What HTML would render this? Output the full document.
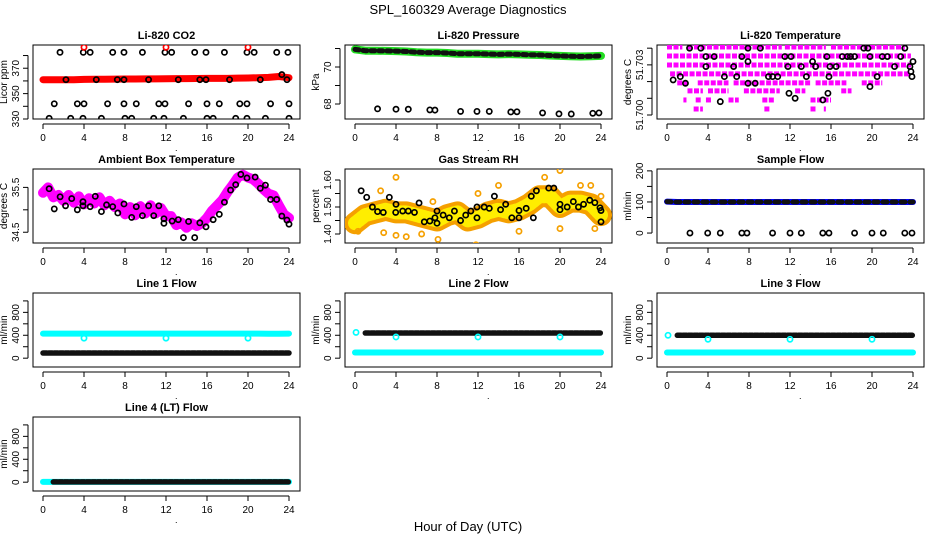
<!DOCTYPE html>
<html><head><meta charset="utf-8"><style>
html,body{margin:0;padding:0;background:#fff}
svg{display:block;font-family:"Liberation Sans",Arial,sans-serif}
</style></head><body>
<svg id="chart" width="936" height="540" viewBox="0 0 936 540">
<rect x="0" y="0" width="936" height="540" fill="#fff"/>
<text x="468" y="14" text-anchor="middle" font-size="13">SPL_160329  Average Diagnostics</text>
<text x="468" y="531" text-anchor="middle" font-size="13">Hour of Day (UTC)</text>
</svg>
<script>
// ---------- data ----------
const hourCats = [0,1,2,3,4,5,6,7,8,9,10,11,12,13,14,15,16,17,18,19,20,21,22,23,24];
const xTicks = [0,4,8,12,16,20,24];

const co2Band = [361,361,361,361,361.2,361.3,361.3,361.4,361.5,361.5,361.6,361.6,361.7,361.8,361.8,361.9,362,362,362,362.2,362.3,362.5,362.8,363.5,362.5];
const co2PtHours = [1.66,3.93,4.6,6.8,7.9,9.7,11.9,12.55,14.8,15.9,17.7,19.9,20.6,22.8,23.9, 2.24,5.2,7.25,7.9,10.3,13.2,15.3,15.9,18.2,21.2,23.3,23.8, 1.1,3.35,4.0,6.3,7.9,9.1,11.3,11.9,14.2,16.0,17.2,19.2,19.9,22.2,24, 0.6,2.7,3.9,5.7,8.0,8.65,10.8,11.8,13.7,16.0,16.6,18.8,19.9,21.7,24];
const co2PtVals = [382.5,382.5,382.5,382.5,382.5,382.5,382.5,382.5,382.5,382.5,382.5,382.5,382.5,382.5,382.5, 361,361,361,361,361,361,361,361,361,361,365,361, 342,342,342,342,342,342,342,342,342,342,342,342,342,342,342, 330.5,330.5,330.5,330.5,330.5,330.5,330.5,330.5,330.5,330.5,330.5,330.5,330.5,330.5,330.5];
const co2RedHours = [4,12,20];
const co2RedVals = [386.5,386.5,386.5];

const presBand = [70.95,70.88,70.88,70.87,70.86,70.84,70.8,70.78,70.78,70.76,70.72,70.72,70.72,70.7,70.68,70.7,70.68,70.66,70.65,70.62,70.6,70.58,70.57,70.58,70.6];
const presLowHours = [2.2,4,5.2,7.3,7.8,10.3,11.9,13.1,15.2,15.8,18.3,19.9,21.1,23.2,23.8];
const presLowVals = [67.74,67.72,67.72,67.68,67.67,67.6,67.6,67.6,67.57,67.58,67.52,67.47,67.46,67.5,67.52];

const tempLevels = [51.70407,51.70353,51.70299,51.70246,51.70192,51.70144,51.7009,51.70036];
const tempRanges = [
 [[0,1.5],[2,11.2],[11.5,15.5],[16,23.2]],
 [[0,23.8]],
 [[0,23.8]],
 [[0.3,23.6]],
 [[1,2],[3,6],[6.5,14],[14.5,17.5],[19,21]],
 [[2,3.5],[4,6],[7.5,11],[12.5,13.5],[17,18]],
 [[1.6,1.9],[2.8,3.3],[3.8,4.3],[6,7],[9.3,10.5],[14,16]],
 [[2.6,3.5],[9.5,10],[14,14.5],[15.3,15.5]]];
const tempPtHours = [0.6,1.3,1.8,2.2,3.3,3.8,3.8,4.6,5.2,5.6,6.5,6.8,7.3,7.9,7.9,7.9,8.6,9.1,9.9,10.3,10.8,11.5,11.8,11.9,12.1,12.5,13.1,13.6,14.2,14.5,15.2,15.6,15.7,15.8,15.9,16.5,17.1,17.6,17.9,18.3,19.2,19.6,19.8,19.8,20.5,21,21.5,22.2,22.8,23.2,23.7,23.8,23.9,24];
const tempPtVals = [51.7021,51.7023,51.7019,51.7040,51.7040,51.7035,51.7029,51.7035,51.7008,51.7023,51.7029,51.7023,51.7035,51.7040,51.7032,51.7019,51.7019,51.7040,51.7023,51.7023,51.7023,51.7035,51.7029,51.7013,51.7035,51.7010,51.7029,51.7023,51.7032,51.7029,51.7009,51.7035,51.7013,51.7023,51.7029,51.7029,51.7035,51.7035,51.7035,51.7035,51.7040,51.7040,51.7035,51.7017,51.7023,51.7035,51.7035,51.7029,51.7035,51.7040,51.7029,51.7026,51.7023,51.7032];

const ambHalfHours = [0,0.5,1,1.5,2,2.5,3,3.5,4,4.5,5,5.5,6,6.5,7,7.5,8,8.5,9,9.5,10,10.5,11,11.5,12,12.5,13,13.5,14,14.5,15,15.5,16,16.5,17,17.5,18,18.5,19,19.5,20,20.5,21,21.5,22,22.5,23,23.5,24];
const ambBand = [35.38,35.5,35.28,35.33,35.2,35.33,35.16,35.3,35.12,35.26,35.14,35.28,35.1,35.2,35.06,35.14,34.9,35.06,34.88,35.08,34.92,35.1,34.92,35.04,34.86,34.86,34.66,34.72,34.6,34.7,34.64,34.7,34.82,34.98,35.1,35.22,35.4,35.55,35.72,35.78,35.72,35.68,35.58,35.46,35.36,35.32,35.1,34.9,34.82];
const ambPtHours = [0.6,1.1,1.67,2.2,2.8,3.35,3.9,3.9,4.6,5.1,5.7,6.2,6.8,7.3,7.9,8.65,9.1,9.7,10.3,10.8,11.3,11.8,11.8,12.6,13.2,13.7,14.2,14.8,15.3,15.9,16.6,17.2,17.7,18.3,18.8,19.3,19.9,20.7,21.2,21.7,22.2,22.8,23.3,23.8,24];
const ambPtVals = [35.47,35.02,35.29,35.09,35.25,35.0,35.18,35.09,35.07,35.3,34.96,35.11,35.07,34.93,35.13,34.83,35.07,34.87,35.09,34.87,35.09,34.8,34.7,34.75,34.78,34.38,34.74,34.38,34.71,34.62,34.78,34.9,35.17,35.44,35.56,35.79,35.71,35.73,35.48,35.55,35.23,35.23,34.86,34.77,34.68];

const rhBand = [1.44,1.47,1.48,1.49,1.48,1.48,1.47,1.46,1.45,1.47,1.48,1.45,1.46,1.48,1.49,1.48,1.49,1.51,1.54,1.54,1.50,1.52,1.52,1.51,1.47];
const rhPtHours = [0.6,1.14,1.7,2.2,2.76,3.35,3.97,4.0,4.65,5.2,5.8,6.25,6.76,7.3,7.8,8.0,8.0,8.6,9.2,9.7,10.3,10.8,11.3,11.9,11.9,12.6,13.1,13.6,14.2,14.7,15.3,16.0,16.0,16.7,17.2,17.7,17.4,18.9,19.4,20,20,20.7,21.3,21.8,22.3,22.9,23.4,23.9,24,24];
const rhPtVals = [1.56,1.536,1.50,1.483,1.48,1.536,1.48,1.51,1.485,1.485,1.48,1.515,1.445,1.448,1.46,1.485,1.44,1.47,1.46,1.485,1.45,1.47,1.485,1.50,1.46,1.50,1.495,1.54,1.49,1.51,1.46,1.487,1.46,1.495,1.54,1.56,1.46,1.57,1.57,1.51,1.49,1.50,1.52,1.50,1.51,1.525,1.516,1.497,1.487,1.445];
const rhOutHours = [0.3,2.5,2.8,4,4,5,6.5,7.6,8.1,11.8,12,14,16,18.5,20,20,22,23,23.4,24];
const rhOutVals = [1.41,1.56,1.405,1.61,1.395,1.39,1.40,1.52,1.38,1.36,1.55,1.58,1.41,1.61,1.635,1.42,1.58,1.58,1.42,1.54];

const sfBand = [101,100,100,100,100,100,100,100,100,100,100,100,100,100,100,100,100,100,100,100,100,100,100,100,100];
const sfZeroHours = [2.24,3.97,5.2,7.3,7.8,10.3,12.0,13.1,15.2,15.8,18.3,20,21.1,23.2,23.9];
const sfZeroVals = [0,0,0,0,0,0,0,0,0,0,0,0,0,0,0];

const l1Cyan = [430,430,430,430,430,430,430,430,430,430,430,430,430,430,430,430,430,430,430,430,430,430,425,425,430];
const l1Black = [90,90,90,90,90,90,90,90,90,90,90,90,90,90,90,90,90,90,90,90,90,90,90,90,90];
const l2Cyan = [100,100,100,100,100,100,100,100,100,100,100,100,100,100,100,100,100,100,100,100,100,100,100,100,100];
const l2Black = [440,440,440,440,440,440,440,440,440,440,440,440,440,440,440,440,440,440,440,440,440,440,440,440,440];
const l3Cyan = [100,100,100,100,100,100,100,100,100,100,100,100,100,100,100,100,100,100,100,100,100,100,100,100,100];
const l3Black = [400,400,400,400,400,400,400,400,400,400,400,400,400,400,400,400,400,400,400,400,400,400,400,400,400];
const l4Cyan = [5,5,5,5,5,5,5,5,5,5,5,5,5,5,5,5,5,5,5,5,5,5,5,5,5];
const l4Black = [5,5,5,5,5,5,5,5,5,5,5,5,5,5,5,5,5,5,5,5,5,5,5,5,5];
const dipHours = [4,12,20];
const l1DipVals = [350,350,350];
const l2DipVals = [370,370,370];
const l3DipVals = [330,330,330];

// ---------- drawing ----------
const NS = "http://www.w3.org/2000/svg";
const svg = document.getElementById("chart");
function mk(tag, parent, attrs){ const e=document.createElementNS(NS,tag); for(const k in attrs) e.setAttribute(k,attrs[k]); parent.appendChild(e); return e; }

function makePanel(r, c, ymin, ymax, yTicks, yLabels, title, ylab, key){
  const L = 33 + 312*c, R = L + 267, T = 45 + 124*r, B = T + 74;
  const g = mk("g", svg, {});
  
  
  const x = h => L + 10 + h*10.25;
  const y = v => B - (v - ymin)/(ymax - ymin)*(B - T);
  const t = mk("text", g, {x:(L+R)/2, y:T-6, "text-anchor":"middle", "font-size":"11", "font-weight":"bold"});
  t.textContent = title;
  
  
  const box = mk("rect", g, {x:L, y:T, width:R-L, height:B-T, fill:"none", stroke:"#000", "stroke-width":"1"});
  
  
  const xa = mk("g", g, {});
  
  
  mk("line", xa, {x1:x(0), x2:x(24), y1:B+5, y2:B+5, stroke:"#000"});
  xTicks.forEach(h=>{
    mk("line", xa, {x1:x(h), x2:x(h), y1:B+5, y2:B+10, stroke:"#000"});
    const lt = mk("text", xa, {x:x(h), y:B+22, "text-anchor":"middle", "font-size":"10"});
    lt.textContent = h;
    
    
  });
  const dot = mk("text", xa, {x:x(13), y:B+32, "text-anchor":"middle", "font-size":"9"}); dot.textContent=".";
  const ya = mk("g", g, {});
  
  
  mk("line", ya, {x1:L-5, x2:L-5, y1:y(yTicks[0]), y2:y(yTicks[yTicks.length-1]), stroke:"#000"});
  yTicks.forEach(v=>{ mk("line", ya, {x1:L-10, x2:L-5, y1:y(v), y2:y(v), stroke:"#000"}); });
  yLabels.forEach(v=>{
    const yy = y(v);
    const lt = mk("text", ya, {x:L-14, y:yy, "text-anchor":"middle", "font-size":"10", transform:`rotate(-90 ${L-14} ${yy})`});
    lt.textContent = (key==='temp') ? v.toFixed(3) : (key==='rh' ? v.toFixed(2) : v);
    
    
  });
  const yl = mk("text", g, {x:L-26, y:(T+B)/2, "text-anchor":"middle", "font-size":"10", transform:`rotate(-90 ${L-26} ${(T+B)/2})`});
  yl.textContent = ylab;
  
  
  const clipId = "clip-" + key;
  const cp = mk("clipPath", g, {id:clipId}); mk("rect", cp, {x:L, y:T, width:R-L, height:B-T});
  const data = mk("g", g, {"clip-path":`url(#${clipId})`});
  
  
  return {g:data, x, y};
}
function band(p, hours, vals, color, w, name, dash){
  const pts = hours.map((h,i)=>p.x(h).toFixed(1)+","+p.y(vals[i]).toFixed(1)).join(" ");
  const e = mk("polyline", p.g, {points:pts, fill:"none", stroke:color, "stroke-width":w, "stroke-linejoin":"round", "stroke-linecap":"round"});
  if(dash) e.setAttribute("stroke-dasharray", dash);
  
  
  return e;
}
function pts(p, hours, vals, color, name, r){
  hours.forEach((h,i)=>{
    const e = mk("circle", p.g, {cx:p.x(h), cy:p.y(vals[i]), r:r||2.6, fill:"none", stroke:color, "stroke-width":"1.7"});
    
    
  });
}

// CO2
let p = makePanel(0,0,330,388.3,[330,340,350,360,370,380],[330,350,370],"Li-820 CO2","Licor ppm","co2");
band(p, hourCats, co2Band, "#ff0000", 7, "co2-band");
pts(p, co2PtHours, co2PtVals, "#000", "co2-point");
pts(p, co2RedHours, co2RedVals, "#ff0000", "co2-red-point");

// Pressure
p = makePanel(0,1,67.19,71.19,[68,69,70,71],[68,70],"Li-820 Pressure","kPa","pressure");
band(p, hourCats, presBand, "#22dd22", 8, "pressure-band");
band(p, hourCats, presBand, "#111", 5, "pressure-black-points", "4 4");
pts(p, presLowHours, presLowVals, "#000", "pressure-low-point");

// Temperature
p = makePanel(0,2,51.69976,51.70419,[51.700,51.701,51.702,51.703,51.704],[51.700,51.703],"Li-820 Temperature","degrees C","temp");
tempLevels.forEach((lv,i)=>{
  tempRanges[i].forEach(rg=>{
    const e = mk("line", p.g, {x1:p.x(rg[0]), x2:p.x(rg[1]), y1:p.y(lv), y2:p.y(lv), stroke:"#ff00ff", "stroke-width":"5", "stroke-dasharray":"5 1.5"});
    
    
  });
});
pts(p, tempPtHours, tempPtVals, "#000", "temp-point");

// Ambient
p = makePanel(1,0,34.26,35.91,[34.5,35.0,35.5],[34.5,35.5],"Ambient Box Temperature","degrees C","ambient");
band(p, ambHalfHours, ambBand, "#ff00ff", 10, "ambient-band");
pts(p, ambPtHours, ambPtVals, "#000", "ambient-point");

// RH
p = makePanel(1,1,1.3667,1.6407,[1.40,1.45,1.50,1.55,1.60],[1.40,1.50,1.60],"Gas Stream RH","percent","rh");
band(p, hourCats, rhBand, "#f5a000", 22, "rh-band");
band(p, hourCats, rhBand, "#ffee00", 14, "rh-band-inner", "2 2");
pts(p, rhOutHours, rhOutVals, "#f5a000", "rh-outlier");
pts(p, rhPtHours, rhPtVals, "#000", "rh-point");

// Sample flow
p = makePanel(1,2,-32,206,[0,50,100,150,200],[0,100,200],"Sample Flow","ml/min","sample-flow");
band(p, hourCats, sfBand, "#0000ff", 6, "sample-flow-band");
band(p, hourCats, sfBand, "#111", 5, "sample-flow-points", "4 5");
pts(p, sfZeroHours, sfZeroVals, "#000", "sample-flow-zero-point");

// Line flows
const fTicks=[0,200,400,600,800,1000], fLabels=[0,400,800];
p = makePanel(2,0,-154,1138,fTicks,fLabels,"Line 1 Flow","ml/min","line1");
band(p, hourCats, l1Cyan, "#00ffff", 6, "line1-cyan-band");
band(p, hourCats, l1Black, "#111", 5.5, "line1-black-points", "4 1.5");
pts(p, dipHours, l1DipVals, "#00ffff", "line1-dip");

p = makePanel(2,1,-154,1138,fTicks,fLabels,"Line 2 Flow","ml/min","line2");
band(p, hourCats, l2Cyan, "#00ffff", 6, "line2-cyan-band");
band(p, hourCats.slice(1), l2Black.slice(1), "#111", 5.5, "line2-black-points", "4 1.5");
pts(p, [0.1], [450], "#00ffff", "line2-start");
pts(p, dipHours, l2DipVals, "#00ffff", "line2-dip");

p = makePanel(2,2,-154,1138,fTicks,fLabels,"Line 3 Flow","ml/min","line3");
band(p, hourCats, l3Cyan, "#00ffff", 6, "line3-cyan-band");
band(p, hourCats.slice(1), l3Black.slice(1), "#111", 5.5, "line3-black-points", "4 1.5");
pts(p, [0.1], [400], "#00ffff", "line3-start");
pts(p, dipHours, l3DipVals, "#00ffff", "line3-dip");

p = makePanel(3,0,-154,1138,fTicks,fLabels,"Line 4 (LT) Flow","ml/min","line4");
band(p, hourCats, l4Cyan, "#00ffff", 6, "line4-cyan-band");
band(p, hourCats.slice(1), l4Black.slice(1), "#111", 5.5, "line4-black-points", "4 1.5");
</script>
</body></html>
